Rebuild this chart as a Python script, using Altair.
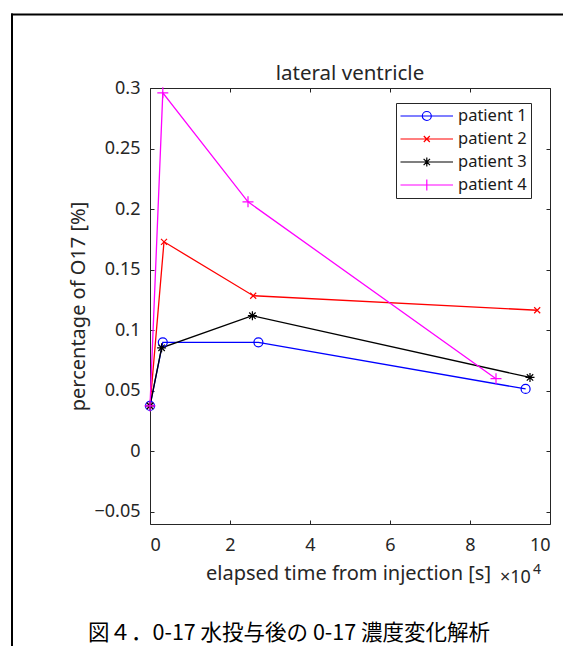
import altair as alt
import pandas as pd

# ---------------- data ----------------
patients = ["patient 1", "patient 2", "patient 3", "patient 4"]
colors = ["#0000ff", "#ff0000", "#000000", "#ff00ff"]

time_p1 = [0, 3200, 27100, 93900]
value_p1 = [0.0375, 0.0900, 0.0900, 0.0515]
time_p2 = [0, 3500, 25800, 96800]
value_p2 = [0.0375, 0.1730, 0.1285, 0.1165]
time_p3 = [0, 2900, 25600, 95000]
value_p3 = [0.0375, 0.0855, 0.1120, 0.0610]
time_p4 = [0, 3200, 24500, 86500]
value_p4 = [0.0375, 0.2960, 0.2060, 0.0600]

x_ticks = [0, 20000, 40000, 60000, 80000, 100000]
y_ticks = [-0.05, 0, 0.05, 0.1, 0.15, 0.2, 0.25, 0.3]

title_text = "lateral ventricle"
x_title = "elapsed time from injection [s]"
y_title = "percentage of O17 [%]"
exp_base = "×10"
exp_power = "4"
caption = "図４．0-17 水投与後の 0-17 濃度変化解析"

rows = []
for name, ts, vs in zip(patients, [time_p1, time_p2, time_p3, time_p4],
                        [value_p1, value_p2, value_p3, value_p4]):
    for t, v in zip(ts, vs):
        rows.append({"patient": name, "t": t, "v": v})
df = pd.DataFrame(rows)

# ---------------- styling ----------------
FONT = "Noto Sans"
AX = "#262626"
W, H = 400, 436


def circ(cx, r):
    return (f"M{cx - r:.4f},0A{r:.4f},{r:.4f},0,1,1,{cx + r:.4f},0"
            f"A{r:.4f},{r:.4f},0,1,1,{cx - r:.4f},0Z")


def cross(cx, r):
    return f"M{cx - r:.4f},{-r:.4f}L{cx + r:.4f},{r:.4f}M{cx - r:.4f},{r:.4f}L{cx + r:.4f},{-r:.4f}"


def plus(cx, r):
    return f"M{cx - r:.4f},0L{cx + r:.4f},0M{cx:.4f},{-r:.4f}L{cx:.4f},{r:.4f}"


def star(cx, r, d):
    return plus(cx, r) + cross(cx, d)


# data markers (size 100 -> 1 unit = 5 px)
marker_paths = [circ(0, 0.9), cross(0, 0.6), star(0, 0.9, 0.64), plus(0, 1.1)]
# legend symbols (size 256 -> 1 unit = 8 px): line + marker
LCX = 2.225
line = "M-1.0625,0L5.5,0"
legend_paths = [line + circ(LCX, 0.5625), line + cross(LCX, 0.375),
                line + star(LCX, 0.5625, 0.4), line + plus(LCX, 0.6875)]

xscale = alt.Scale(domain=[0, 100000], nice=False, zero=False)
yscale = alt.Scale(domain=[-0.06, 0.3], nice=False, zero=False)
cscale = alt.Scale(domain=patients, range=colors)

base = alt.Chart(df)

lines = base.mark_line(strokeWidth=1.3).encode(
    x=alt.X("t:Q", scale=xscale,
            axis=alt.Axis(orient="bottom", values=x_ticks,
                          labelExpr="format(datum.value / 10000, 'd')",
                          ticks=False, tickSize=0, domain=True, labelPadding=12,
                          title=x_title, titleX=198, titleY=39)),
    y=alt.Y("v:Q", scale=yscale,
            axis=alt.Axis(orient="left", values=y_ticks, format="~g",
                          ticks=False, tickSize=0, domain=True, labelPadding=10,
                          title=y_title, titleX=-62, titleY=218)),
    color=alt.Color("patient:N", scale=cscale, legend=None),
    detail="patient:N",
)

points = base.mark_point(filled=False, size=100, strokeWidth=1.2, opacity=1).encode(
    x=alt.X("t:Q", scale=xscale,
            axis=alt.Axis(orient="top", offset=-H, values=x_ticks, labels=False,
                          domain=False, ticks=True, tickSize=4, title=None)),
    y=alt.Y("v:Q", scale=yscale,
            axis=alt.Axis(orient="right", offset=-W, values=y_ticks, labels=False,
                          domain=False, ticks=True, tickSize=4, title=None)),
    color=alt.Color("patient:N", scale=cscale, legend=None),
    shape=alt.Shape("patient:N", scale=alt.Scale(domain=patients, range=marker_paths),
                    legend=None),
)

leg = alt.Legend(orient="none", legendX=246, legendY=15, title=None, padding=4,
                 strokeColor=AX, fillColor="white", cornerRadius=0,
                 symbolSize=256, symbolStrokeWidth=1.2, symbolOpacity=1,
                 labelOffset=40, rowPadding=5, labelFont=FONT, labelFontSize=16.5,
                 labelColor="#1a1a1a", labelLimit=0)

legend_layer = base.mark_point(filled=False, opacity=0, strokeWidth=1.2).encode(
    x=alt.X("t:Q", scale=xscale,
            axis=alt.Axis(orient="bottom", offset=-H, values=x_ticks, labels=False,
                          domain=True, ticks=True, tickSize=4, title=None)),
    y=alt.Y("v:Q", scale=yscale,
            axis=alt.Axis(orient="left", offset=-W, values=y_ticks, labels=False,
                          domain=True, ticks=True, tickSize=4, title=None)),
    color=alt.Color("patient:N", scale=cscale, legend=leg),
    shape=alt.Shape("patient:N", scale=alt.Scale(domain=patients, range=legend_paths),
                    legend=leg),
)

one = pd.DataFrame({"a": [0]})

ttl = alt.Chart(pd.DataFrame({"s": [title_text]})).mark_text(
    font=FONT, fontSize=20.5, color=AX, align="center", baseline="alphabetic").encode(
    text="s:N", x=alt.value(W / 2), y=alt.value(-8))
exp1 = alt.Chart(pd.DataFrame({"s": [exp_base]})).mark_text(
    font=FONT, fontSize=18, color=AX, align="left", baseline="alphabetic").encode(
    text="s:N", x=alt.value(350), y=alt.value(495))
exp2 = alt.Chart(pd.DataFrame({"s": [exp_power]})).mark_text(
    font=FONT, fontSize=14, color=AX, align="left", baseline="alphabetic").encode(
    text="s:N", x=alt.value(383), y=alt.value(486))
cap = alt.Chart(pd.DataFrame({"s": [caption]})).mark_text(
    font="Noto Sans CJK JP", fontSize=21.5, color="#000000", align="center",
    baseline="middle").encode(text="s:N", x=alt.value(139), y=alt.value(546))

frame_top = alt.Chart(one).mark_rule(color="#000000", strokeWidth=2).encode(
    x=alt.value(-139), x2=alt.value(430), y=alt.value(-73.5))
frame_left = alt.Chart(one).mark_rule(color="#000000", strokeWidth=2).encode(
    x=alt.value(-138), y=alt.value(-74.5), y2=alt.value(580))

chart = alt.layer(
    lines, points, legend_layer, ttl, exp1, exp2, cap, frame_top, frame_left
).resolve_axis(
    x="independent", y="independent"
).resolve_scale(
    color="independent", shape="independent"
).properties(
    width=W, height=H,
    autosize=alt.AutoSizeParams(type="none"),
    padding={"left": 142, "top": 80, "right": 13, "bottom": 122},
).configure_axis(
    grid=False, labelFont=FONT, titleFont=FONT, labelFontSize=18, titleFontSize=20,
    titleFontWeight="normal", labelColor=AX, titleColor=AX, domainColor=AX,
    tickColor=AX, domainWidth=1, tickWidth=1,
).configure_view(stroke=None)

chart.save("out.html", embed_options={"renderer": "svg", "actions": False})
